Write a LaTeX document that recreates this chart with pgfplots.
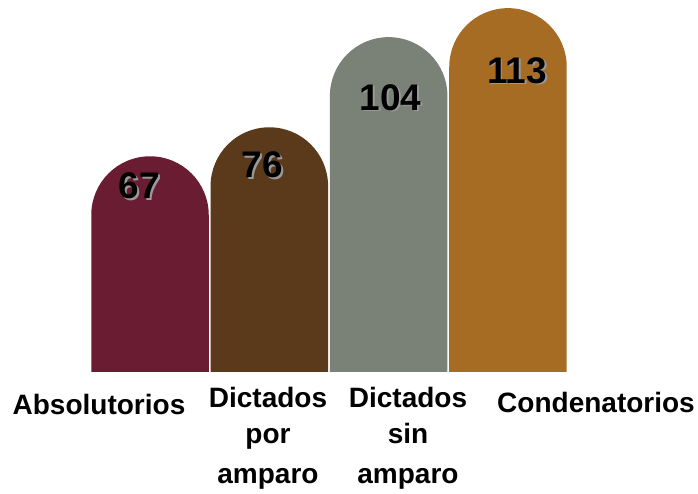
\documentclass[border=0pt]{standalone}
\usepackage{pgfplots}
\pgfplotsset{compat=1.18}
\usepackage{fontspec}
\setmainfont{Liberation Sans}
\definecolor{c1}{HTML}{6A1C33}
\definecolor{c2}{HTML}{5B3A1B}
\definecolor{c3}{HTML}{7A8277}
\definecolor{c4}{HTML}{A66C24}
\newcommand\sh[1]{\rlap{\kern1.8pt\raisebox{-1.8pt}{\textcolor{black!40}{#1}}}#1}
\newcommand\labfont{\fontsize{28}{34}\selectfont\bfseries}
\begin{document}
\begin{tikzpicture}
\begin{axis}[at={(0,0)}, anchor=north west,
  x=119.33pt, y=3.22pt,
  xmin=-1.2570, xmax=4.5925, ymin=0, ymax=155.53,
  hide axis, ybar, bar width=117.5pt, clip=true,
  point meta=explicit symbolic,
  nodes near coords={\sh{\pgfplotspointmeta}},
  every node near coord/.append style={font=\fontsize{37}{40}\selectfont\bfseries, anchor=base, inner sep=0pt, text=black},
]
\addplot[fill=c1, draw=none, bar shift=0pt, rounded corners=58.75pt,
  every node near coord/.append style={xshift=-10.5pt, yshift=-42pt}]
  table[x=x, y expr=\thisrow{v}+40, meta=v] {
x v
0 67
};
\addplot[fill=c2, draw=none, bar shift=0pt, rounded corners=58.75pt,
  every node near coord/.append style={xshift=-7pt, yshift=-50pt}]
  table[x=x, y expr=\thisrow{v}+40, meta=v] {
x v
1 76
};
\addplot[fill=c3, draw=none, bar shift=0pt, rounded corners=58.75pt,
  every node near coord/.append style={xshift=2pt, yshift=-73pt}]
  table[x=x, y expr=\thisrow{v}+40, meta=v] {
x v
2 104
};
\addplot[fill=c4, draw=none, bar shift=0pt, rounded corners=58.75pt,
  every node near coord/.append style={xshift=9pt, yshift=-75pt}]
  table[x=x, y expr=\thisrow{v}+40, meta=v] {
x v
3 113
};
\coordinate (B) at (axis cs:-1.2570,40);
\coordinate (L1) at (axis cs:-0.4274,40);
\coordinate (L2) at (axis cs:0.9888,40);
\coordinate (L3) at (axis cs:2.162,40);
\coordinate (L4) at (axis cs:3.7375,40);
\end{axis}
\fill[white] (B) rectangle ++(698pt,-200pt);
\node[anchor=base, inner sep=0pt, font=\labfont, yshift=-42pt] at (L1) {Absolutorios};
\node[anchor=base, inner sep=0pt, font=\labfont, yshift=-35pt] at (L2) {Dictados};
\node[anchor=base, inner sep=0pt, font=\labfont, yshift=-71pt] at (L2) {por};
\node[anchor=base, inner sep=0pt, font=\labfont, yshift=-111pt] at (L2) {amparo};
\node[anchor=base, inner sep=0pt, font=\labfont, yshift=-35pt] at (L3) {Dictados};
\node[anchor=base, inner sep=0pt, font=\labfont, yshift=-71pt] at (L3) {sin};
\node[anchor=base, inner sep=0pt, font=\labfont, yshift=-111pt] at (L3) {amparo};
\node[anchor=base, inner sep=0pt, font=\labfont, yshift=-40pt] at (L4) {Condenatorios};
\pgfresetboundingbox
\path (0,0) rectangle (698pt,-494pt);
\end{tikzpicture}
\end{document}
